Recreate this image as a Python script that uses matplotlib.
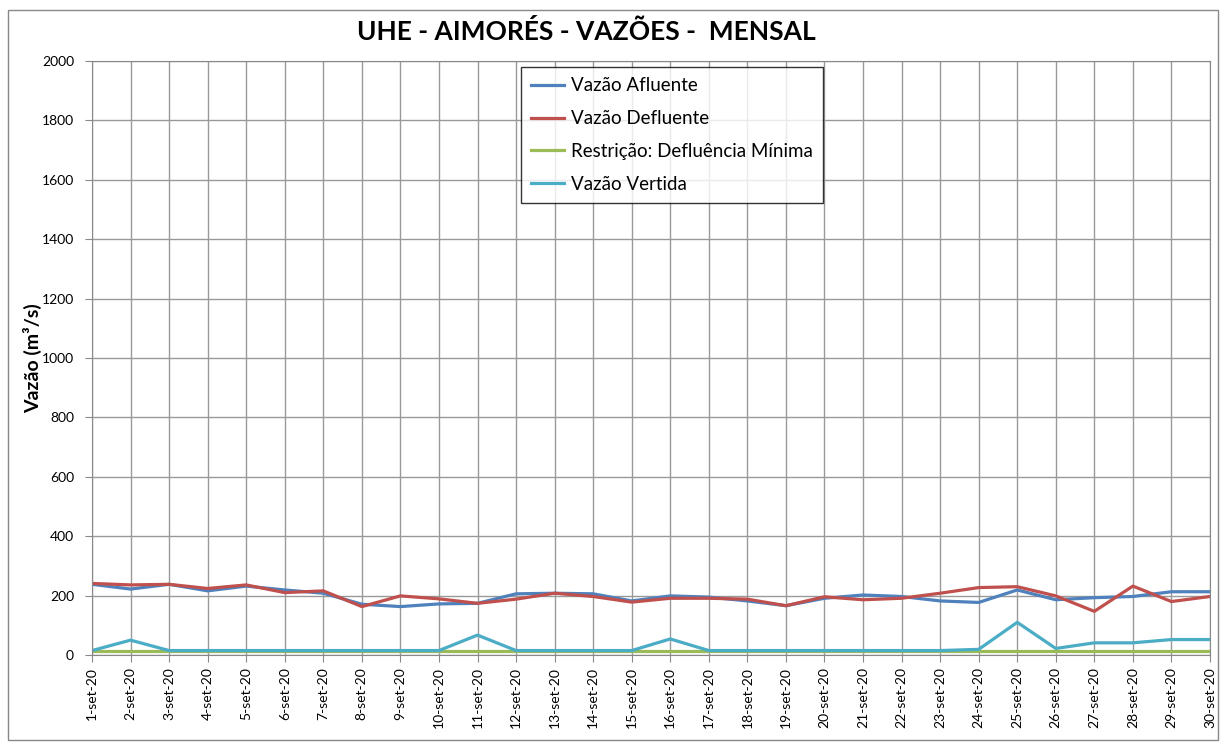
# UHE Aimorés - vazões mensais (set/2020)
import matplotlib
matplotlib.use("Agg")
import matplotlib.pyplot as plt

plt.rcParams['font.family'] = ['Lato', 'DejaVu Sans']

# dados
dias = [f"{d}-set-20" for d in range(1, 31)]
afluente = [238, 222, 238, 216, 232, 219, 208, 171, 163, 172,
            174, 206, 208, 206, 182, 199, 195, 182, 166, 191,
            202, 197, 182, 177, 219, 186, 193, 197, 213, 213]
defluente = [241, 236, 238, 224, 236, 210, 216, 163, 199, 189,
             174, 188, 208, 197, 178, 191, 191, 188, 166, 196,
             186, 191, 208, 227, 230, 199, 147, 232, 180, 197]
restricao = [15] * 30
vertida = [15, 50, 15, 15, 15, 15, 15, 15, 15, 15,
           67, 15, 15, 15, 15, 54, 15, 15, 15, 15,
           15, 15, 15, 19, 110, 22, 41, 41, 52, 52]

fig = plt.figure(figsize=(12.2, 7.5), dpi=100)
ax = fig.add_axes([92/1220, 1 - 655/750, (1210-92)/1220, (655-61)/750])

x = list(range(len(dias)))
ax.plot(x, afluente, color="#4F81BD", lw=2.3, label="Vazão Afluente")
ax.plot(x, defluente, color="#C0504D", lw=2.3, label="Vazão Defluente")
ax.plot(x, restricao, color="#9BBB59", lw=2.3, label="Restrição: Defluência Mínima")
ax.plot(x, vertida, color="#4BACC6", lw=2.3, label="Vazão Vertida")

ax.set_xlim(0, len(dias) - 1)
ax.set_ylim(0, 2000)
ax.set_yticks(range(0, 2001, 200))
ax.set_xticks(x)
ax.set_xticklabels(dias, rotation=90, fontsize=10)
ax.tick_params(axis='y', labelsize=10, length=5, pad=8, color="#888888")
ax.tick_params(axis='x', length=5, color="#888888")
ax.grid(True, color="#999999", lw=1)
ax.set_axisbelow(True)
for s in ax.spines.values():
    s.set_color("#888888")

ax.set_ylabel("Vazão (m³/s)", fontsize=14, fontweight="bold", labelpad=0)
fig.text(0.481, 1 - 32/750, "UHE - AIMORÉS - VAZÕES -  MENSAL", fontsize=19,
         fontweight="bold", ha="center", va="center")

leg = ax.legend(loc="upper left", bbox_to_anchor=((521-92)/1118, (655-67)/594),
                borderaxespad=0, fontsize=13.5, frameon=True, fancybox=False,
                handlelength=1.75, labelspacing=0.84, borderpad=0.55,
                handletextpad=0.35)
leg.get_frame().set_edgecolor("black")
leg.get_frame().set_linewidth(1)

# borda da figura
fig.patches.append(plt.Rectangle((8/1220, 10/750), 1210/1220, 730/750,
                                 transform=fig.transFigure, fill=False,
                                 edgecolor="#888888", lw=1))

plt.savefig("out.png", dpi=100)
